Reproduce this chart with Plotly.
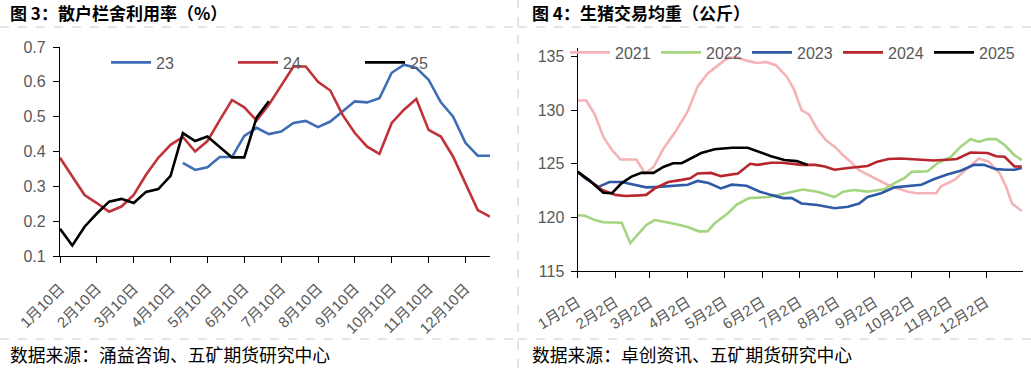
import plotly.graph_objects as go

# ---------------- Left chart: 散户栏舍利用率 (10-day points) ----------------
left_tick_labels = ["1月10日", "2月10日", "3月10日", "4月10日", "5月10日", "6月10日",
                    "7月10日", "8月10日", "9月10日", "10月10日", "11月10日", "12月10日"]
left_x = list(range(36))
left_tick_pos = list(range(0, 36, 3))

util_23 = [None] * 10 + [0.367, 0.347, 0.355, 0.384, 0.384, 0.445, 0.468, 0.450, 0.457, 0.482,
                         0.488, 0.470, 0.486, 0.515, 0.544, 0.541, 0.553, 0.626, 0.649, 0.640,
                         0.606, 0.541, 0.500, 0.425, 0.388, 0.388]
util_24 = [0.382, 0.328, 0.275, 0.252, 0.227, 0.242, 0.275, 0.333, 0.382, 0.419,
           0.442, 0.400, 0.430, 0.490, 0.548, 0.527, 0.489, 0.534, 0.591, 0.644,
           0.644, 0.600, 0.575, 0.505, 0.453, 0.414, 0.393, 0.482, 0.520, 0.551,
           0.462, 0.443, 0.385, 0.309, 0.232, 0.213]
util_25 = [0.178, 0.130, 0.184, 0.222, 0.256, 0.264, 0.252, 0.284, 0.292, 0.330,
           0.453, 0.430, 0.443, 0.412, 0.383, 0.383, 0.497, 0.544] + [None] * 18

# ---------------- Right chart: 生猪交易均重 (day offset from 1月2日) ----------------
right_tick_labels = ["1月2日", "2月2日", "3月2日", "4月2日", "5月2日", "6月2日",
                     "7月2日", "8月2日", "9月2日", "10月2日", "11月2日", "12月2日"]
right_tick_pos = [0, 31, 59, 90, 120, 151, 181, 212, 243, 273, 304, 334]

d2021 = [0, 7, 14, 21, 28, 35, 48, 55, 62, 70, 80, 90, 98, 106, 115, 123, 131, 139, 147, 154,
         162, 171, 177, 183, 189, 196, 203, 210, 217, 224, 230, 237, 245, 254, 262, 270, 277,
         293, 297, 308, 319, 328, 336, 345, 350, 355, 363]
w2021 = [130.9, 130.9, 129.6, 127.5, 126.3, 125.4, 125.4, 124.1, 124.7, 126.4, 128.0, 129.9,
         132.2, 133.4, 134.2, 134.9, 134.9, 134.6, 134.4, 134.5, 134.2, 133.1, 131.9, 130.0,
         129.6, 128.2, 127.2, 126.6, 125.8, 125.1, 124.4, 124.0, 123.5, 123.0, 122.7, 122.4,
         122.25, 122.25, 122.9, 123.5, 124.6, 125.5, 125.2, 124.1, 122.9, 121.3, 120.6]

d2022 = [0, 6, 14, 21, 36, 43, 56, 63, 77, 90, 99, 106, 112, 123, 130, 140, 156, 169, 184,
         196, 210, 217, 226, 237, 251, 259, 267, 273, 286, 294, 305, 313, 321, 328, 335, 342,
         349, 357, 363]
w2022 = [120.2, 120.15, 119.75, 119.55, 119.5, 117.6, 119.3, 119.75, 119.45, 119.1, 118.7,
         118.7, 119.45, 120.4, 121.2, 121.8, 121.9, 122.2, 122.6, 122.4, 121.9, 122.4, 122.55,
         122.4, 122.65, 123.2, 123.65, 124.25, 124.3, 125.05, 125.65, 126.6, 127.3, 127.05,
         127.3, 127.3, 126.75, 125.8, 125.35]

d2023 = [0, 6, 17, 26, 36, 46, 56, 66, 77, 90, 98, 107, 117, 126, 138, 149, 158, 168, 175,
         183, 196, 210, 221, 230, 237, 248, 259, 270, 281, 291, 302, 313, 324, 332, 342, 350,
         357, 363]
w2023 = [124.25, 123.65, 122.85, 123.3, 123.3, 123.05, 122.8, 122.85, 122.95, 123.05, 123.4,
         123.2, 122.7, 123.05, 122.95, 122.4, 122.1, 121.8, 121.8, 121.3, 121.15, 120.85, 121.0,
         121.3, 121.9, 122.25, 122.8, 122.95, 123.05, 123.55, 124.0, 124.35, 124.9, 124.9,
         124.5, 124.45, 124.45, 124.6]

d2024 = [0, 9, 20, 31, 39, 50, 56, 63, 74, 85, 92, 98, 109, 117, 131, 141, 147, 158, 167,
         183, 194, 202, 210, 221, 229, 237, 245, 254, 264, 277, 291, 305, 310, 321, 335, 342,
         349, 357, 363]
w2024 = [124.25, 123.5, 122.55, 122.1, 122.0, 122.05, 122.1, 122.7, 123.3, 123.5, 123.65,
         124.1, 124.15, 123.85, 124.1, 125.0, 124.9, 125.1, 125.1, 124.9, 124.9, 124.75, 124.45,
         124.6, 124.7, 124.8, 125.2, 125.45, 125.5, 125.4, 125.3, 125.4, 125.45, 126.05, 126.0,
         125.7, 125.65, 124.75, 124.75]

d2025 = [0, 9, 21, 28, 36, 44, 52, 62, 70, 78, 85, 92, 101, 112, 126, 139, 149, 158, 169,
         179, 188]
w2025 = [124.25, 123.5, 122.3, 122.25, 123.2, 123.8, 124.15, 124.15, 124.7, 125.05, 125.05,
         125.5, 126.0, 126.35, 126.5, 126.5, 126.05, 125.7, 125.35, 125.25, 124.9]

W, H = 1031, 368
TXT = "Liberation Sans, Noto Sans CJK SC, sans-serif"
CJK = "Noto Sans CJK SC, sans-serif"
GRAY = "#595959"

fig = go.Figure()

left_series = [("23", util_23, "#3f6db5"), ("24", util_24, "#c0333b"), ("25", util_25, "#000000")]
for name, ys, col in left_series:
    fig.add_trace(go.Scatter(x=left_x, y=ys, name=name, mode="lines",
                             line=dict(color=col, width=2.6), xaxis="x", yaxis="y",
                             legend="legend", connectgaps=False))

right_series = [("2021", d2021, w2021, "#f4b3b6"), ("2022", d2022, w2022, "#a3d47f"),
                ("2023", d2023, w2023, "#2f5aa6"), ("2024", d2024, w2024, "#b8262c"),
                ("2025", d2025, w2025, "#000000")]
for name, xs, ys, col in right_series:
    fig.add_trace(go.Scatter(x=xs, y=ys, name=name, mode="lines",
                             line=dict(color=col, width=2.6), xaxis="x2", yaxis="y2",
                             legend="legend2"))

axis_common = dict(showgrid=False, zeroline=False, showline=True, linecolor="#000000",
                   linewidth=1.3, ticks="outside", tickcolor="#000000", ticklen=6,
                   tickwidth=1.3, automargin=False)

fig.update_layout(
    width=W, height=H,
    margin=dict(l=0, r=0, t=0, b=0, autoexpand=False),
    paper_bgcolor="#ffffff", plot_bgcolor="#ffffff",
    xaxis=dict(domain=[60 / W, 490 / W], range=[0, 35], tickvals=left_tick_pos,
               ticktext=left_tick_labels, tickangle=-45, anchor="y", ticklabelstandoff=11,
               tickfont=dict(family=TXT, size=15, color=GRAY), **axis_common),
    yaxis=dict(domain=[1 - 256 / H, 1 - 47 / H], range=[0.1, 0.7], dtick=0.1,
               tickformat=".1f", anchor="x", ticklabelstandoff=4,
               tickfont=dict(family=TXT, size=16, color=GRAY), **axis_common),
    xaxis2=dict(domain=[577.7 / W, 1023 / W], range=[0, 364], tickvals=right_tick_pos,
                ticktext=right_tick_labels, tickangle=-32, anchor="y2", ticklabelstandoff=10,
                tickfont=dict(family=TXT, size=15, color=GRAY), **axis_common),
    yaxis2=dict(domain=[1 - 271 / H, 1 - 48 / H], range=[115, 135.8], tickvals=[115, 120, 125, 130, 135],
                anchor="x2", ticklabelstandoff=3,
                tickfont=dict(family=TXT, size=16, color=GRAY), **axis_common),
    legend=dict(orientation="h", x=106 / W, y=1 - 62.5 / H, xanchor="left", yanchor="middle",
                bgcolor="rgba(0,0,0,0)", font=dict(family=TXT, size=16, color=GRAY),
                itemwidth=40, entrywidth=72, entrywidthmode="pixels"),
    legend2=dict(orientation="h", x=565 / W, y=1 - 52.5 / H, xanchor="left", yanchor="middle",
                 bgcolor="rgba(0,0,0,0)", font=dict(family=TXT, size=16, color=GRAY),
                 itemwidth=40, entrywidth=36, entrywidthmode="pixels"),
)

# Titles and sources
anns = [
    dict(text="<b>图 3：散户栏舍利用率（%）</b>", x=8 / W, y=1 - 13 / H, size=17),
    dict(text="<b>图 4：生猪交易均重（公斤）</b>", x=530 / W, y=1 - 13 / H, size=17),
    dict(text="数据来源：涌益咨询、五矿期货研究中心", x=8 / W, y=1 - 354 / H, size=17.8),
    dict(text="数据来源：卓创资讯、五矿期货研究中心", x=530 / W, y=1 - 354 / H, size=17.8),
]
for a in anns:
    fig.add_annotation(text=a["text"], x=a["x"], y=a["y"], xref="paper", yref="paper",
                       xanchor="left", yanchor="middle", showarrow=False,
                       font=dict(family=CJK, size=a["size"], color="#000000"))

# Dashed frame lines
dash = dict(color="#c8c8c8", width=1, dash="dash")
for x0, x1, yy in [(0, 515, 27), (518, W, 27), (0, 515, 339), (518, W, 339)]:
    fig.add_shape(type="line", xref="paper", yref="paper", x0=x0 / W, x1=x1 / W,
                  y0=1 - yy / H, y1=1 - yy / H, line=dash)
fig.add_shape(type="line", xref="paper", yref="paper", x0=518 / W, x1=518 / W, y0=0, y1=1,
              line=dash)

fig.write_html("out.html", config={"displayModeBar": False},
               post_script="document.body.style.margin='0';document.body.style.overflow='hidden';")
